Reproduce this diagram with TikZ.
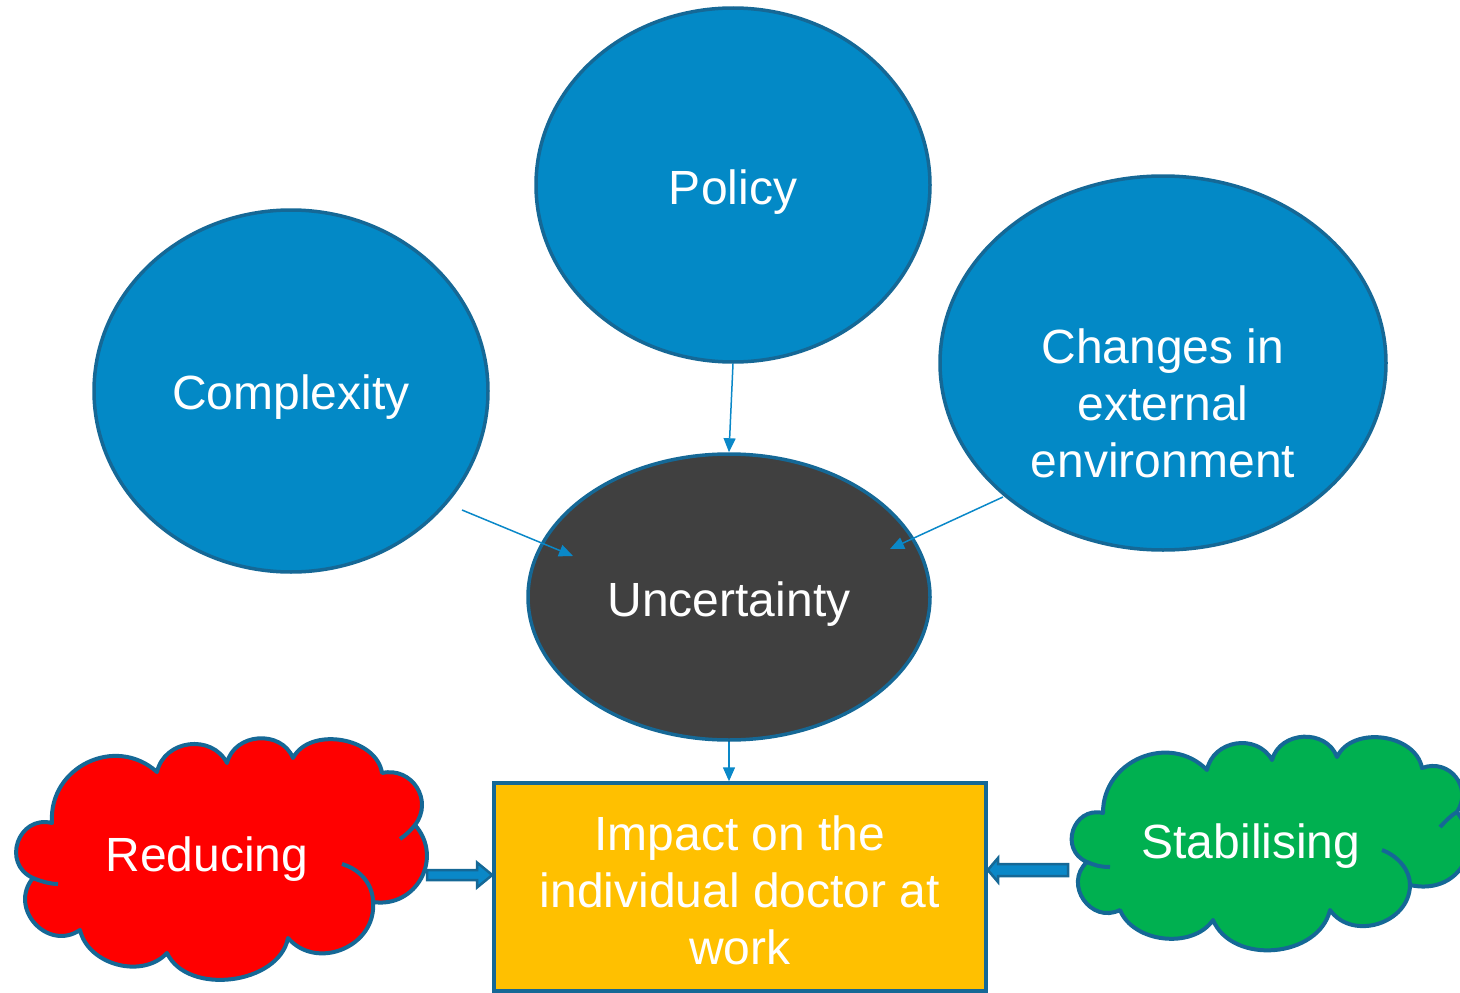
\documentclass[tikz,border=0pt]{standalone}
\usepackage{fontspec}
\setmainfont{Liberation Sans}
\usetikzlibrary{shapes.geometric,arrows.meta,calc}
\definecolor{bluefill}{HTML}{0389C6}
\definecolor{edgeblue}{HTML}{156896}
\definecolor{darkfill}{HTML}{404040}
\definecolor{boxfill}{HTML}{FFC000}
\definecolor{redfill}{HTML}{FF0000}
\definecolor{greenfill}{HTML}{00B050}
\definecolor{arrowblue}{HTML}{0A88C8}
\newcommand\pf[4]{.. controls ($(#1)!#4!#3:(#2)$) and ($(#2)!#4!-#3:(#1)$) .. (#2)}
\tikzset{
  bubble/.style={ellipse, draw=edgeblue, line width=3.5pt, fill=bluefill, inner sep=0pt},
  darkbubble/.style={bubble, fill=darkfill},
  impactbox/.style={rectangle, draw=edgeblue, line width=3.5pt, fill=boxfill, inner sep=0pt},
  cloudline/.style={draw=edgeblue, line width=4pt, line join=round},
  thinarrow/.style={draw=arrowblue, line width=1.5pt, -{Triangle[length=14pt,width=12pt]}},
  blockarrow/.style={draw=edgeblue, line width=2.5pt, fill=arrowblue, line join=miter},
  lbl/.style={text=white, font=\fontsize{48}{57}\selectfont, align=center, inner sep=0pt}
}
\begin{document}
\begin{tikzpicture}[x=1pt,y=-1pt]
\useasboundingbox (0,0) rectangle (1460,993);
\clip (0,0) rectangle (1460,993);
% ellipses
\node[bubble, minimum width=394, minimum height=354] (policy) at (733,185) {};
\node[lbl] (tpolicy) at (733,192) {Policy};
\node[bubble, minimum width=394, minimum height=362] (comp) at (291,391) {};
\node[lbl] (tcomp) at (291,397) {Complexity};
\node[bubble, minimum width=446, minimum height=374] (env) at (1163,363) {};
\node[lbl] (tenv) at (1163,403) {Changes in\\external\\environment};
\node[darkbubble, minimum width=402, minimum height=286] (unc) at (729,597) {};
\node[lbl] (tunc) at (729,604) {Uncertainty};
% box
\node[impactbox, minimum width=492, minimum height=208] (impact) at (740,887) {};
\node[lbl] (timpact) at (740,890) {Impact on the\\individual doctor at\\work};
% red cloud
\coordinate (r1) at (52,823);
\coordinate (r2) at (157,772);
\coordinate (r3) at (227,763);
\coordinate (r4) at (293,758);
\coordinate (r5) at (382,773);
\coordinate (r6) at (415,825);
\coordinate (r7) at (373,902);
\coordinate (r8) at (288,938);
\coordinate (r9) at (167,953);
\coordinate (r10) at (80,930);
\coordinate (r11) at (33,878);
\path[cloudline, fill=redfill] (r1) \pf{r1}{r2}{68}{0.48} \pf{r2}{r3}{70}{0.47} \pf{r3}{r4}{72}{0.47}
  \pf{r4}{r5}{72}{0.40} \pf{r5}{r6}{70}{0.50} \pf{r6}{r7}{70}{0.50} \pf{r7}{r8}{72}{0.48}
  \pf{r8}{r9}{72}{0.39} \pf{r9}{r10}{62}{0.40} \pf{r10}{r11}{82}{0.56} \pf{r11}{r1}{85}{0.60} -- cycle;
\draw[cloudline] (r11) .. controls (40,881) and (50,884) .. (58,884);
\draw[cloudline] (r7) .. controls (373,886) and (362,870) .. (342,864);
\draw[cloudline] (r6) .. controls (411,830) and (406,835) .. (400,839);
\node[lbl] (tred) at (207,859) {Reducing};
% green cloud
\coordinate (g1) at (1103,813);
\coordinate (g2) at (1207,770);
\coordinate (g3) at (1272,760);
\coordinate (g4) at (1337,757);
\coordinate (g5) at (1422,768);
\coordinate (g6) at (1457,812);
\coordinate (g7) at (1410,885);
\coordinate (g8) at (1330,910);
\coordinate (g9) at (1213,920);
\coordinate (g10) at (1120,910);
\coordinate (g11) at (1087,862);
\path[cloudline, fill=greenfill] (g1) \pf{g1}{g2}{68}{0.47} \pf{g2}{g3}{70}{0.47} \pf{g3}{g4}{72}{0.47}
  \pf{g4}{g5}{72}{0.41} \pf{g5}{g6}{72}{0.52} \pf{g6}{g7}{70}{0.55} \pf{g7}{g8}{72}{0.46}
  \pf{g8}{g9}{72}{0.42} \pf{g9}{g10}{62}{0.38} \pf{g10}{g11}{82}{0.56} \pf{g11}{g1}{85}{0.60} -- cycle;
\draw[cloudline] (g11) .. controls (1094,865) and (1100,867) .. (1110,867);
\draw[cloudline] (g7) .. controls (1410,870) and (1398,856) .. (1382,850);
\draw[cloudline] (g6) .. controls (1450,816) and (1445,822) .. (1440,827);
\node[lbl] (tgreen) at (1251,846) {Stabilising};
% thin arrows
\coordinate (c1) at (462,510);
\coordinate (c1e) at (573,556);
\coordinate (e1) at (1003,497);
\coordinate (e1e) at (890,549);
\draw[thinarrow] (policy.south) -- (unc.north);
\draw[thinarrow] (c1) -- (c1e);
\draw[thinarrow] (e1) -- (e1e);
\draw[thinarrow] (unc.south) -- (impact.north -| unc.south);
% block arrows
\coordinate (ra) at (427,875);
\coordinate (ga) at (1068,870);
\draw[blockarrow] (ra) ++(0,-5) -- (477,870) -- (477,862.5) -- (impact.west |- ra) -- (477,887.5) -- (477,880) -- (427,880) -- cycle;
\draw[blockarrow] (ga) ++(0,-6) -- (998,864) -- (998,858) -- (impact.east |- ga) -- (998,882) -- (998,876) -- (1068,876) -- cycle;
\end{tikzpicture}
\end{document}
